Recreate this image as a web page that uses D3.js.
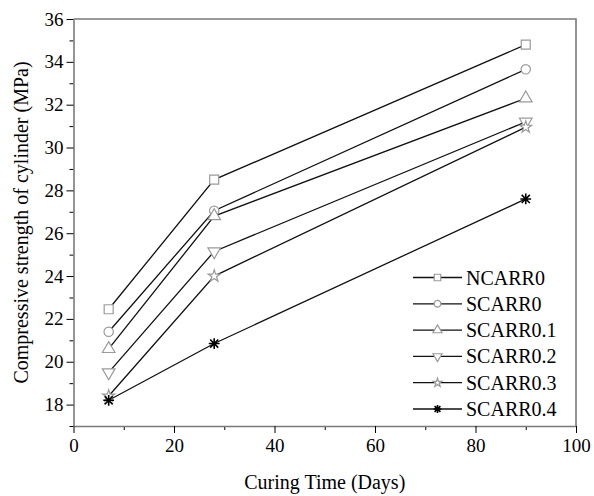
<!DOCTYPE html>
<html>
<head>
	<meta charset="utf-8">
	<title>Compressive strength</title>
	<script type="text/javascript" src="https://d3js.org/d3.v7.min.js"></script>
	<style>
		body { margin: 0; background: #fff; }
	</style>
</head>
<body>
<script type="text/javascript">
	// data
	var days = [7, 28, 90];
	var seriesNames = ["NCARR0", "SCARR0", "SCARR0.1", "SCARR0.2", "SCARR0.3", "SCARR0.4"];
	var ncarr0 = [22.45, 28.5, 34.8];
	var scarr0 = [21.4, 27.05, 33.65];
	var scarr01 = [20.6, 26.8, 32.3];
	var scarr02 = [19.5, 25.15, 31.2];
	var scarr03 = [18.4, 24.0, 30.95];
	var scarr04 = [18.2, 20.85, 27.6];
	var xTicks = [0, 20, 40, 60, 80, 100];
	var yTicks = [18, 20, 22, 24, 26, 28, 30, 32, 34, 36];

	var allValues = [ncarr0, scarr0, scarr01, scarr02, scarr03, scarr04];
	var shapes = ["square", "circle", "up", "down", "star", "asterisk"];

	var width = 594, height = 496;
	var margin = {top: 19, right: 18, bottom: 70, left: 73.5};
	var serif = "'Liberation Serif', 'Times New Roman', 'DejaVu Serif', serif";

	var svg = d3.select("body")
		.append("svg")
		.attr("width", width)
		.attr("height", height)
		.attr("font-family", serif);

	var xScale = d3.scaleLinear().domain([0, 100]).range([margin.left, 576]);
	var yScale = d3.scaleLinear().domain([17, 36]).range([426, margin.top]);

	var axisColor = "#7a7a7a";

	// minor ticks first
	svg.append("g")
		.attr("transform", "translate(0,426)")
		.call(d3.axisBottom(xScale).tickValues(d3.range(10, 100, 20)).tickSize(4).tickFormat(""))
		.call(function(g) { g.select(".domain").remove(); g.selectAll("line").attr("stroke", "#000"); });
	svg.append("g")
		.attr("transform", "translate(" + margin.left + ",0)")
		.call(d3.axisLeft(yScale).tickValues(d3.range(17, 37, 2)).tickSize(4).tickFormat(""))
		.call(function(g) { g.select(".domain").remove(); g.selectAll("line").attr("stroke", "#000"); });

	// x axis
	var gx = svg.append("g")
		.attr("transform", "translate(0,426)")
		.call(d3.axisBottom(xScale).tickValues(xTicks).tickSize(7).tickSizeOuter(0).tickPadding(6));
	gx.attr("font-family", serif).attr("font-size", 19);
	gx.select(".domain").attr("stroke", axisColor).attr("stroke-width", 1.6);
	gx.selectAll("line").attr("stroke", "#000");
	gx.selectAll("text").attr("fill", "#000");

	// y axis
	var gy = svg.append("g")
		.attr("transform", "translate(" + margin.left + ",0)")
		.call(d3.axisLeft(yScale).tickValues(yTicks).tickSize(7).tickSizeOuter(0).tickPadding(3));
	gy.attr("font-family", serif).attr("font-size", 19);
	gy.select(".domain").attr("stroke", axisColor).attr("stroke-width", 1.6);
	gy.selectAll("line").attr("stroke", "#000");
	gy.selectAll("text").attr("fill", "#000");

	// frame top and right
	svg.append("path")
		.attr("d", "M" + margin.left + "," + yScale(36) + "H" + xScale(100) + "V" + yScale(17))
		.attr("fill", "none")
		.attr("stroke", axisColor)
		.attr("stroke-width", 1.6);

	// axis titles
	svg.append("text")
		.attr("x", (xScale(0) + xScale(100)) / 2)
		.attr("y", 489)
		.attr("text-anchor", "middle")
		.attr("font-size", 20)
		.text("Curing Time (Days)");

	svg.append("text")
		.attr("transform", "translate(28," + (yScale(17) + yScale(36)) / 2 + ") rotate(-90)")
		.attr("text-anchor", "middle")
		.attr("font-size", 20)
		.text("Compressive strength of cylinder (MPa)");

	function drawMarker(g, shape, s) {
		if (shape == "asterisk") {
			var r = s * 0.6;
			g.append("path")
				.attr("d", "M0," + (-r) + "V" + r + "M" + (-r) + ",0H" + r +
					"M" + (-r * 0.75) + "," + (-r * 0.75) + "L" + (r * 0.75) + "," + (r * 0.75) +
					"M" + (-r * 0.75) + "," + (r * 0.75) + "L" + (r * 0.75) + "," + (-r * 0.75))
				.attr("stroke", "#000")
				.attr("stroke-width", 1.6)
				.attr("fill", "none");
			return;
		}
		var type = d3.symbolSquare, size = s * s, rot = 0;
		if (shape == "circle") { type = d3.symbolCircle; size = s * s * 0.85; }
		if (shape == "up") { type = d3.symbolTriangle; size = s * s * 0.85; }
		if (shape == "down") { type = d3.symbolTriangle; size = s * s * 0.85; rot = 180; }
		if (shape == "star") { type = d3.symbolStar; size = s * s * 0.55; }
		g.append("path")
			.attr("d", d3.symbol().type(type).size(size)())
			.attr("transform", rot ? "rotate(" + rot + ")" : null)
			.attr("fill", "#fff")
			.attr("stroke", "#9a9a9a")
			.attr("stroke-width", 1.2);
	}

	var line = d3.line()
		.x(function(d, i) { return xScale(days[i]); })
		.y(function(d) { return yScale(d); });

	allValues.forEach(function(vals, k) {
		svg.append("path")
			.attr("d", line(vals))
			.attr("fill", "none")
			.attr("stroke", "#111")
			.attr("stroke-width", 1.3);
	});

	allValues.forEach(function(vals, k) {
		vals.forEach(function(v, i) {
			var g = svg.append("g")
				.attr("transform", "translate(" + xScale(days[i]) + "," + yScale(v) + ")");
			drawMarker(g, shapes[k], 9);
		});
	});

	// legend
	var legend = svg.append("g");
	seriesNames.forEach(function(name, k) {
		var y = 277.5 + k * 26.3;
		legend.append("line")
			.attr("x1", 413).attr("x2", 462)
			.attr("y1", y).attr("y2", y)
			.attr("stroke", "#111")
			.attr("stroke-width", 1.3);
		var g = legend.append("g").attr("transform", "translate(437.5," + y + ")");
		drawMarker(g, shapes[k], 6.5);
		legend.append("text")
			.attr("x", 466)
			.attr("y", y)
			.attr("dy", "0.35em")
			.attr("font-size", 20)
			.text(name);
	});
</script>
</body>
</html>
